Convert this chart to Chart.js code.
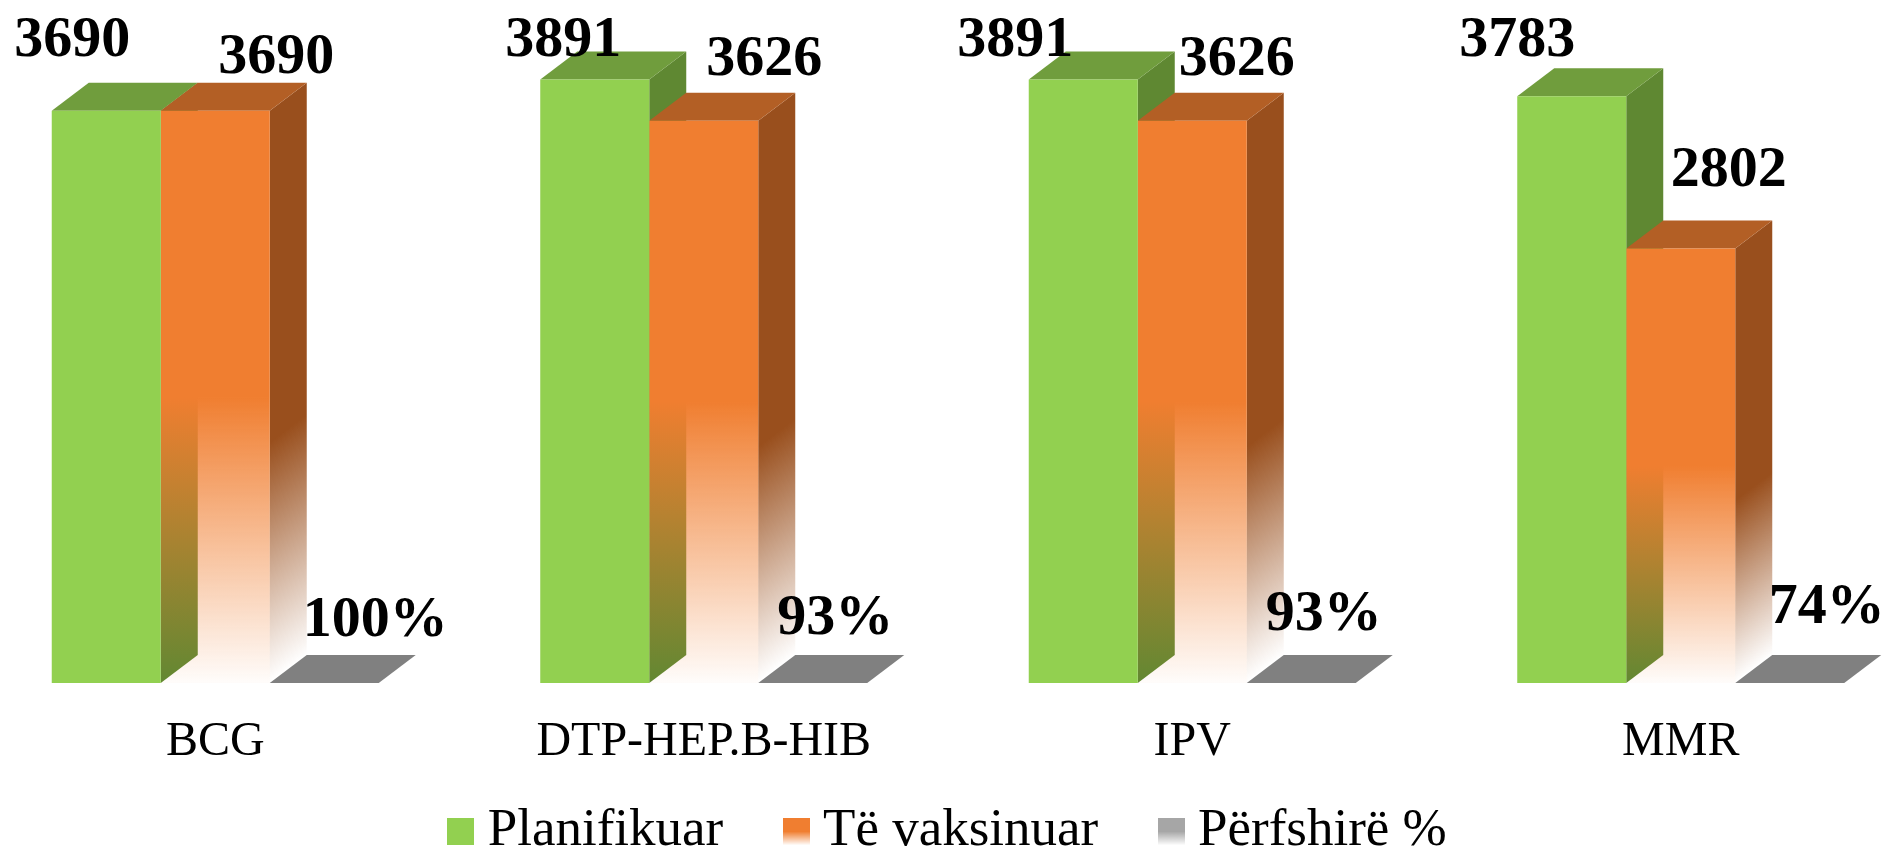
<!DOCTYPE html>
<html>
<head>
<meta charset="utf-8">
<title>Vaksinimi</title>
<script src="https://cdn.jsdelivr.net/npm/chart.js@4"></script>
<style>
    html, body { margin: 0; padding: 0; background: #fff; width: 1890px; height: 850px; overflow: hidden; }
    #miGrafica { position: absolute; left: -29px; top: 0; }
</style>
</head>
<body>
<canvas id="miGrafica" width="1954" height="936"></canvas>
<script>
const categorias = ["BCG", "DTP-HEP.B-HIB", "IPV", "MMR"];
const planifikuar = [3690, 3891, 3891, 3783];
const teVaksinuar = [3690, 3626, 3626, 2802];
const perfshire = [1, 0.93, 0.93, 0.74];

// label position relative to the top of each bar [dx, dy]
const desplazamientos = [
    [[-34, -55], [-31.5, -24], [-68, -24], [-54.5, -40.5]],
    [[61, -38], [60.5, -46], [44.5, -46], [48, -62]],
    [[51, -47], [22.5, -49], [22.5, -53], [37, -60]]
];

const PROF_X = 37;
const PROF_Y = 28;
const SUBIR_LEYENDA = 68;
const CORRER_LEYENDA = 5.5;
const FUENTE = "'Liberation Serif', 'Times New Roman', serif";

function cuadro(dibujar) {
    const c = document.createElement("canvas");
    c.width = 27;
    c.height = 27;
    const g = c.getContext("2d");
    dibujar(g);
    g.fillRect(0, 0, 27, 27);
    return c;
}

function desvanecer(ctx, y0, y1, rgb) {
    const grad = ctx.createLinearGradient(0, y0, 0, y1);
    grad.addColorStop(0, `rgba(${rgb},1)`);
    grad.addColorStop(0.5, `rgba(${rgb},1)`);
    grad.addColorStop(1, `rgba(${rgb},0.02)`);
    return grad;
}

function frenteNaranja(context) {
    const chart = context.chart;
    if (!chart.chartArea || context.raw === undefined) return "#F07E30";
    const y = chart.scales.y;
    return desvanecer(chart.ctx, y.getPixelForValue(context.raw), y.getPixelForValue(0), "240,126,48");
}

function poligono(ctx, puntos, relleno) {
    ctx.fillStyle = relleno;
    ctx.beginPath();
    puntos.forEach((p, i) => i === 0 ? ctx.moveTo(p[0], p[1]) : ctx.lineTo(p[0], p[1]));
    ctx.closePath();
    ctx.fill();
}

// side and top faces go under all the fronts that the library draws
const caras3d = {
    id: "caras3d",
    beforeDatasetsDraw(chart) {
        const ctx = chart.ctx;
        ctx.save();
        chart.data.datasets.forEach((ds, i) => {
            chart.getDatasetMeta(i).data.forEach(bar => {
                const izq = bar.x - bar.width / 2;
                const der = bar.x + bar.width / 2;
                if (ds.colorLado) {
                    let lado = ds.colorLado;
                    if (ds.ladoRgb) {
                        // the fade of the side follows the slant of the face
                        const alto = bar.base - bar.y;
                        const g = ctx.createLinearGradient(der, bar.y, der + alto * 0.481, bar.y + alto * 0.635);
                        g.addColorStop(0, `rgba(${ds.ladoRgb},1)`);
                        g.addColorStop(0.58, `rgba(${ds.ladoRgb},1)`);
                        g.addColorStop(1, `rgba(${ds.ladoRgb},0)`);
                        lado = g;
                    }
                    poligono(ctx, [[der, bar.y], [der + PROF_X, bar.y - PROF_Y],
                        [der + PROF_X, bar.base - PROF_Y], [der, bar.base]], lado);
                }
                poligono(ctx, [[izq, bar.y], [izq + PROF_X, bar.y - PROF_Y],
                    [der + PROF_X, bar.y - PROF_Y], [der, bar.y]], ds.colorTapa);
            });
        });
        ctx.restore();
    }
};

const etiquetas = {
    id: "etiquetas",
    afterLayout(chart) {
        chart.legend.top -= SUBIR_LEYENDA;
        chart.legend.bottom -= SUBIR_LEYENDA;
        chart.legend.left += CORRER_LEYENDA;
        chart.legend.right += CORRER_LEYENDA;
    },
    afterDatasetsDraw(chart) {
        const ctx = chart.ctx;
        ctx.save();
        ctx.font = `bold 58px ${FUENTE}`;
        ctx.fillStyle = "#000";
        ctx.textAlign = "center";
        ctx.textBaseline = "alphabetic";
        chart.data.datasets.forEach((ds, i) => {
            chart.getDatasetMeta(i).data.forEach((bar, j) => {
                const v = ds.data[j];
                const texto = i === 2 ? Math.round(v * 100) + "%" : String(v);
                const d = desplazamientos[i][j];
                ctx.fillText(texto, bar.x + d[0], bar.y + d[1]);
            });
        });
        ctx.restore();
    }
};

const muestras = [
    cuadro(g => { g.fillStyle = "#92D050"; }),
    cuadro(g => { g.fillStyle = desvanecer(g, 0, 27, "240,126,48"); }),
    cuadro(g => { g.fillStyle = desvanecer(g, 0, 27, "166,166,166"); })
];

new Chart(document.getElementById("miGrafica").getContext("2d"), {
    type: "bar",
    data: {
        labels: categorias,
        datasets: [
            { label: "Planifikuar", data: planifikuar, backgroundColor: "#92D050",
              colorLado: "#5F8832", colorTapa: "#709D3D" },
            { label: "Të vaksinuar", data: teVaksinuar, backgroundColor: frenteNaranja,
              colorLado: "#994F1D", ladoRgb: "153,79,29", colorTapa: "#B35F25" },
            { label: "Përfshirë %", data: perfshire, backgroundColor: "#808080",
              colorTapa: "#808080" }
        ]
    },
    plugins: [caras3d, etiquetas],
    options: {
        responsive: false,
        animation: false,
        categoryPercentage: 0.6694,
        barPercentage: 1,
        scales: {
            x: {
                grid: { display: false, drawTicks: false },
                border: { display: false },
                ticks: {
                    color: "#000",
                    padding: 30,
                    maxRotation: 0,
                    autoSkip: false,
                    font: { family: FUENTE, size: 48 }
                }
            },
            y: {
                display: false,
                min: 0,
                max: 4404
            }
        },
        plugins: {
            tooltip: { enabled: false },
            legend: {
                position: "bottom",
                labels: {
                    color: "#000",
                    font: { family: FUENTE, size: 53 },
                    padding: 72.3,
                    usePointStyle: true,
                    boxWidth: 1,
                    pointStyleWidth: 1,
                    generateLabels: chart => chart.data.datasets.map((ds, i) => ({
                        text: ds.label,
                        pointStyle: muestras[i],
                        fontColor: "#000",
                        datasetIndex: i,
                        hidden: false
                    }))
                }
            }
        }
    }
});
</script>
</body>
</html>
